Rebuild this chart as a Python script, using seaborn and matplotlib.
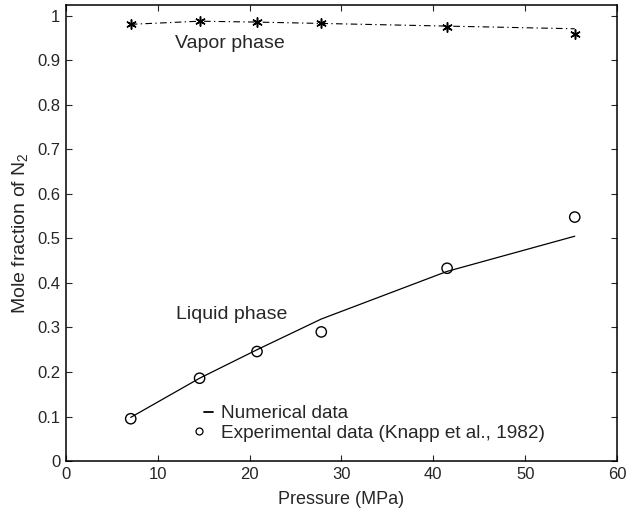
import matplotlib
matplotlib.use('Agg')
import matplotlib.pyplot as plt
import seaborn as sns
import pandas as pd
from matplotlib.lines import Line2D
from matplotlib.legend_handler import HandlerLine2D

# Data
pressure = [7.05, 14.55, 20.8, 27.8, 41.5, 55.4]
liquid_num = [0.098, 0.186, 0.250, 0.319, 0.426, 0.505]
liquid_exp = [0.095, 0.186, 0.246, 0.290, 0.433, 0.548]
vapor_line = [0.981, 0.988, 0.986, 0.983, 0.977, 0.971]
vapor_pts = [0.981, 0.989, 0.987, 0.983, 0.975, 0.959]
x_ticks = [0, 10, 20, 30, 40, 50, 60]
y_ticks = [0, 0.1, 0.2, 0.3, 0.4, 0.5, 0.6, 0.7, 0.8, 0.9, 1.0]
y_tick_labels = ['0', '0.1', '0.2', '0.3', '0.4', '0.5', '0.6', '0.7', '0.8', '0.9', '1']

df = pd.DataFrame({'p': pressure, 'liq_num': liquid_num, 'liq_exp': liquid_exp,
                   'vap_line': vapor_line, 'vap_pts': vapor_pts})

sns.set_style('ticks')
plt.rcParams['font.family'] = ['Liberation Sans', 'DejaVu Sans']
plt.rcParams['mathtext.default'] = 'regular'

fig = plt.figure(figsize=(6.26, 5.18), dpi=100)
ax = fig.add_axes([0.1054, 0.110, 0.8802, 0.880])

sns.lineplot(data=df, x='p', y='liq_num', ax=ax, color='black', linewidth=0.9)
sns.scatterplot(data=df, x='p', y='liq_exp', ax=ax, marker='o', s=55,
                facecolor='none', edgecolor='black', linewidth=1.0, zorder=3)
sns.lineplot(data=df, x='p', y='vap_line', ax=ax, color='black', linewidth=0.8,
             linestyle=(0, (6, 3, 1.2, 3)))
sns.scatterplot(data=df, x='p', y='vap_pts', ax=ax, marker=(6, 2, 0), s=45,
                color='black', edgecolor='black', linewidth=1.1, zorder=3)

ax.set_xlim(0, 60)
ax.set_ylim(0, 1.024)
ax.set_xticks(x_ticks)
ax.set_yticks(y_ticks)
ax.set_yticklabels(y_tick_labels)
ax.tick_params(direction='in', top=True, right=True, length=4, width=0.8,
               labelsize=12, pad=4)
for s in ax.spines.values():
    s.set_visible(True)
    s.set_linewidth(1.1)
    s.set_color('black')

ax.set_xlabel('Pressure (MPa)', fontsize=13, labelpad=7)
ax.set_ylabel('Mole fraction of N$_2$', fontsize=14, labelpad=5)

ax.text(11.9, 0.939, 'Vapor phase', fontsize=14, va='center', ha='left')
ax.text(12.0, 0.329, 'Liquid phase', fontsize=14, va='center', ha='left')


class LeftMarkerHandler(HandlerLine2D):
    def get_xdata(self, legend, xdescent, ydescent, width, height, fontsize):
        xdata, xmark = super().get_xdata(legend, xdescent, ydescent, width, height, fontsize)
        shift = 1.0 * width
        return [x - shift for x in xdata], [x - shift for x in xmark]


circ = Line2D([], [], color='black', marker='o', linestyle='none',
              markerfacecolor='none', markersize=5, markeredgewidth=0.9)
handles = [Line2D([], [], color='black', linewidth=1.3), circ]
ax.legend(handles, ['Numerical data', 'Experimental data (Knapp et al., 1982)'],
          loc='center left', bbox_to_anchor=(0.250, 0.082), frameon=False,
          fontsize=13.7, handlelength=0.5, handletextpad=0.4, labelspacing=0.12,
          borderpad=0, borderaxespad=0,
          handler_map={circ: LeftMarkerHandler(numpoints=1)})

fig.savefig('out.png', dpi=100)
